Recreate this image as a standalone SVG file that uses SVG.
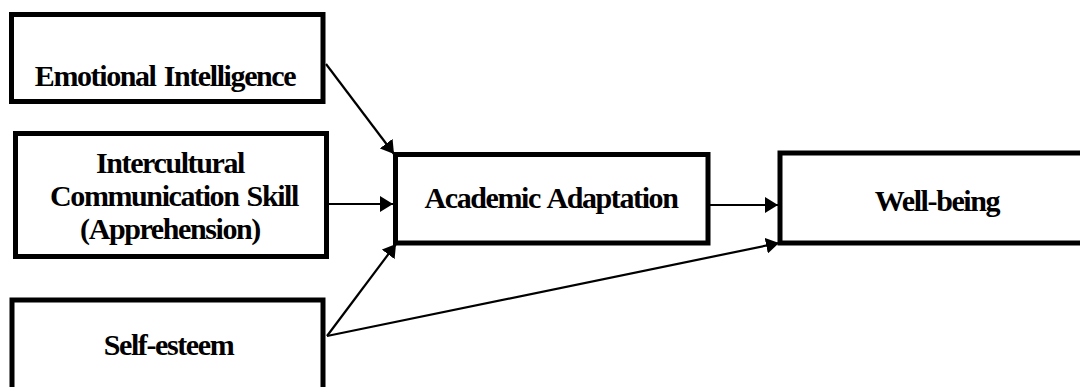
<svg xmlns="http://www.w3.org/2000/svg" width="1080" height="387" viewBox="0 0 1080 387">
<defs>
<style>
.box{fill:#fff;stroke:#000;stroke-width:5}
.lbl{font-family:"Liberation Serif","Times New Roman",serif;font-weight:bold;font-size:30px;letter-spacing:-1.4px;word-spacing:2px;text-anchor:middle;fill:#000}
.conn{stroke:#000;stroke-width:2.2;fill:none;marker-end:url(#ah)}
</style>
<marker id="ah" markerUnits="userSpaceOnUse" markerWidth="14" markerHeight="16" refX="13" refY="8" orient="auto">
<path d="M0,0 L13,8 L0,16 z" fill="#000"/>
</marker>
</defs>
<rect width="1080" height="387" fill="#fff"/>
<g id="emotional-intelligence">
<rect class="box" x="11.5" y="14.5" width="311.5" height="87"/>
<text class="lbl" x="165" y="86">Emotional Intelligence</text>
</g>
<g id="intercultural">
<rect class="box" x="15.5" y="133.5" width="311" height="123"/>
<text class="lbl" x="170" y="173">Intercultural</text>
<text class="lbl" x="174" y="206">Communication Skill</text>
<text class="lbl" x="170" y="239">(Apprehension)</text>
</g>
<g id="self-esteem">
<rect class="box" x="12" y="300" width="311" height="110"/>
<text class="lbl" x="168.5" y="355">Self-esteem</text>
</g>
<g id="academic-adaptation">
<rect class="box" x="395.5" y="154.5" width="312.5" height="88.5"/>
<text class="lbl" x="551" y="208">Academic Adaptation</text>
</g>
<g id="well-being">
<rect class="box" x="780" y="153" width="320" height="90"/>
<text class="lbl" x="937" y="211">Well-being</text>
</g>
<g id="connectors">
<line class="conn" x1="326" y1="64" x2="394" y2="154"/>
<line class="conn" x1="329" y1="204" x2="393" y2="204"/>
<line class="conn" x1="327" y1="336" x2="396" y2="244"/>
<line class="conn" x1="327" y1="336" x2="779" y2="243"/>
<line class="conn" x1="710" y1="205" x2="778" y2="205"/>
</g>
</svg>
